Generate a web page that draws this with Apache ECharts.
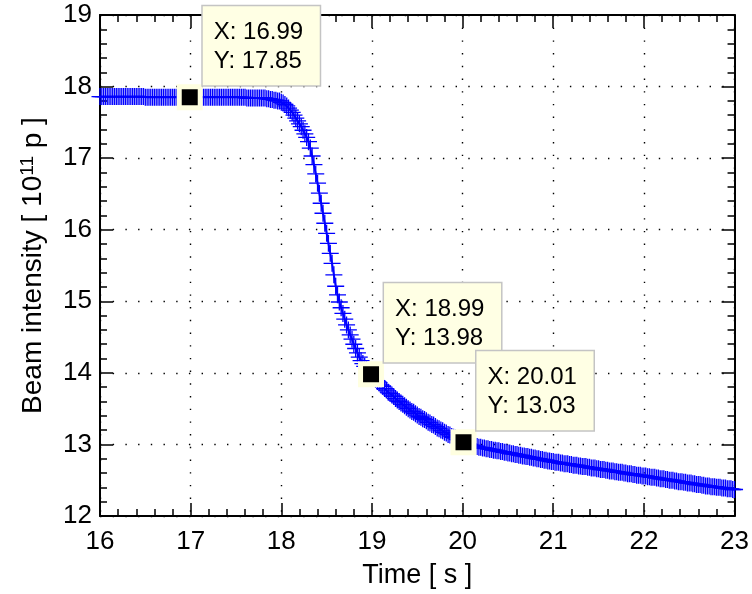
<!DOCTYPE html>
<html>
<head>
<meta charset="utf-8">
<script src="https://cdn.jsdelivr.net/npm/echarts@6/dist/echarts.min.js"></script>
<style>
  html, body { margin: 0; padding: 0; background: #fff; }
  #chart { width: 752px; height: 594px; }
</style>
</head>
<body>
<div id="chart"></div>
<script>
// sample times [s], one sample every 0.02 s
const times = [
  16.00, 16.02, 16.04, 16.06, 16.08, 16.10, 16.12, 16.14, 16.16, 16.18,
  16.20, 16.22, 16.24, 16.26, 16.28, 16.30, 16.32, 16.34, 16.36, 16.38,
  16.40, 16.42, 16.44, 16.46, 16.48, 16.50, 16.52, 16.54, 16.56, 16.58,
  16.60, 16.62, 16.64, 16.66, 16.68, 16.70, 16.72, 16.74, 16.76, 16.78,
  16.80, 16.82, 16.84, 16.86, 16.88, 16.90, 16.92, 16.94, 16.96, 16.98,
  17.00, 17.02, 17.04, 17.06, 17.08, 17.10, 17.12, 17.14, 17.16, 17.18,
  17.20, 17.22, 17.24, 17.26, 17.28, 17.30, 17.32, 17.34, 17.36, 17.38,
  17.40, 17.42, 17.44, 17.46, 17.48, 17.50, 17.52, 17.54, 17.56, 17.58,
  17.60, 17.62, 17.64, 17.66, 17.68, 17.70, 17.72, 17.74, 17.76, 17.78,
  17.80, 17.82, 17.84, 17.86, 17.88, 17.90, 17.92, 17.94, 17.96, 17.98,
  18.00, 18.02, 18.04, 18.06, 18.08, 18.10, 18.12, 18.14, 18.16, 18.18,
  18.20, 18.22, 18.24, 18.26, 18.28, 18.30, 18.32, 18.34, 18.36, 18.38,
  18.40, 18.42, 18.44, 18.46, 18.48, 18.50, 18.52, 18.54, 18.56, 18.58,
  18.60, 18.62, 18.64, 18.66, 18.68, 18.70, 18.72, 18.74, 18.76, 18.78,
  18.80, 18.82, 18.84, 18.86, 18.88, 18.90, 18.92, 18.94, 18.96, 18.98,
  19.00, 19.02, 19.04, 19.06, 19.08, 19.10, 19.12, 19.14, 19.16, 19.18,
  19.20, 19.22, 19.24, 19.26, 19.28, 19.30, 19.32, 19.34, 19.36, 19.38,
  19.40, 19.42, 19.44, 19.46, 19.48, 19.50, 19.52, 19.54, 19.56, 19.58,
  19.60, 19.62, 19.64, 19.66, 19.68, 19.70, 19.72, 19.74, 19.76, 19.78,
  19.80, 19.82, 19.84, 19.86, 19.88, 19.90, 19.92, 19.94, 19.96, 19.98,
  20.00, 20.02, 20.04, 20.06, 20.08, 20.10, 20.12, 20.14, 20.16, 20.18,
  20.20, 20.22, 20.24, 20.26, 20.28, 20.30, 20.32, 20.34, 20.36, 20.38,
  20.40, 20.42, 20.44, 20.46, 20.48, 20.50, 20.52, 20.54, 20.56, 20.58,
  20.60, 20.62, 20.64, 20.66, 20.68, 20.70, 20.72, 20.74, 20.76, 20.78,
  20.80, 20.82, 20.84, 20.86, 20.88, 20.90, 20.92, 20.94, 20.96, 20.98,
  21.00, 21.02, 21.04, 21.06, 21.08, 21.10, 21.12, 21.14, 21.16, 21.18,
  21.20, 21.22, 21.24, 21.26, 21.28, 21.30, 21.32, 21.34, 21.36, 21.38,
  21.40, 21.42, 21.44, 21.46, 21.48, 21.50, 21.52, 21.54, 21.56, 21.58,
  21.60, 21.62, 21.64, 21.66, 21.68, 21.70, 21.72, 21.74, 21.76, 21.78,
  21.80, 21.82, 21.84, 21.86, 21.88, 21.90, 21.92, 21.94, 21.96, 21.98,
  22.00, 22.02, 22.04, 22.06, 22.08, 22.10, 22.12, 22.14, 22.16, 22.18,
  22.20, 22.22, 22.24, 22.26, 22.28, 22.30, 22.32, 22.34, 22.36, 22.38,
  22.40, 22.42, 22.44, 22.46, 22.48, 22.50, 22.52, 22.54, 22.56, 22.58,
  22.60, 22.62, 22.64, 22.66, 22.68, 22.70, 22.72, 22.74, 22.76, 22.78,
  22.80, 22.82, 22.84, 22.86, 22.88, 22.90, 22.92, 22.94, 22.96, 22.98,
  23.00
]

// beam intensity [1e11 p]
const intensity = [
  17.86, 17.86, 17.86, 17.86, 17.86, 17.86, 17.86, 17.86, 17.86, 17.86,
  17.86, 17.86, 17.86, 17.86, 17.86, 17.86, 17.86, 17.86, 17.86, 17.86,
  17.86, 17.86, 17.86, 17.86, 17.86, 17.85, 17.85, 17.85, 17.85, 17.85,
  17.85, 17.85, 17.85, 17.85, 17.85, 17.85, 17.85, 17.85, 17.85, 17.85,
  17.85, 17.85, 17.85, 17.85, 17.85, 17.85, 17.85, 17.85, 17.85, 17.85,
  17.85, 17.85, 17.85, 17.85, 17.85, 17.85, 17.85, 17.85, 17.85, 17.85,
  17.85, 17.85, 17.85, 17.85, 17.85, 17.85, 17.85, 17.85, 17.85, 17.85,
  17.85, 17.85, 17.85, 17.85, 17.85, 17.85, 17.85, 17.85, 17.85, 17.85,
  17.85, 17.84, 17.84, 17.84, 17.84, 17.84, 17.84, 17.84, 17.84, 17.84,
  17.84, 17.84, 17.83, 17.83, 17.82, 17.82, 17.81, 17.81, 17.80, 17.80,
  17.78, 17.77, 17.75, 17.73, 17.70, 17.67, 17.64, 17.60, 17.56, 17.52,
  17.48, 17.44, 17.39, 17.34, 17.29, 17.23, 17.14, 17.03, 16.91, 16.78,
  16.65, 16.51, 16.37, 16.23, 16.09, 15.95, 15.81, 15.67, 15.53, 15.37,
  15.21, 15.09, 14.99, 14.91, 14.83, 14.75, 14.67, 14.60, 14.53, 14.47,
  14.40, 14.34, 14.28, 14.22, 14.17, 14.13, 14.09, 14.06, 14.03, 14.00,
  13.97, 13.94, 13.91, 13.88, 13.86, 13.83, 13.81, 13.78, 13.76, 13.73,
  13.71, 13.69, 13.67, 13.64, 13.62, 13.60, 13.58, 13.56, 13.54, 13.52,
  13.50, 13.48, 13.46, 13.45, 13.43, 13.41, 13.39, 13.38, 13.36, 13.35,
  13.33, 13.31, 13.30, 13.28, 13.27, 13.25, 13.23, 13.22, 13.20, 13.19,
  13.17, 13.16, 13.14, 13.13, 13.11, 13.10, 13.09, 13.07, 13.06, 13.05,
  13.04, 13.03, 13.02, 13.01, 13.00, 12.99, 12.98, 12.98, 12.97, 12.96,
  12.96, 12.95, 12.95, 12.94, 12.94, 12.93, 12.93, 12.92, 12.92, 12.91,
  12.91, 12.90, 12.90, 12.89, 12.89, 12.88, 12.88, 12.87, 12.87, 12.86,
  12.86, 12.85, 12.85, 12.84, 12.84, 12.83, 12.83, 12.82, 12.82, 12.81,
  12.81, 12.80, 12.80, 12.79, 12.79, 12.78, 12.78, 12.77, 12.77, 12.76,
  12.76, 12.75, 12.75, 12.75, 12.74, 12.74, 12.73, 12.73, 12.73, 12.72,
  12.72, 12.71, 12.71, 12.71, 12.70, 12.70, 12.69, 12.69, 12.69, 12.68,
  12.68, 12.67, 12.67, 12.67, 12.66, 12.66, 12.65, 12.65, 12.65, 12.64,
  12.64, 12.63, 12.63, 12.63, 12.62, 12.62, 12.61, 12.61, 12.61, 12.60,
  12.60, 12.59, 12.59, 12.59, 12.58, 12.58, 12.57, 12.57, 12.57, 12.56,
  12.56, 12.56, 12.55, 12.55, 12.54, 12.54, 12.54, 12.53, 12.53, 12.52,
  12.52, 12.52, 12.51, 12.51, 12.50, 12.50, 12.50, 12.49, 12.49, 12.48,
  12.48, 12.48, 12.47, 12.47, 12.46, 12.46, 12.46, 12.45, 12.45, 12.44,
  12.44, 12.44, 12.43, 12.43, 12.42, 12.42, 12.42, 12.41, 12.41, 12.41,
  12.40, 12.40, 12.40, 12.39, 12.39, 12.39, 12.38, 12.38, 12.38, 12.37,
  12.37
]

// data cursors
const cursorX = [16.99, 18.99, 20.01]
const cursorY = [17.85, 13.98, 13.03]

const FONT = 'Liberation Sans, Arial, Helvetica, sans-serif'
const BLUE = '#0000ff'

const chart = echarts.init(document.getElementById('chart'))

function boxAxis(pos, isX, withLabels) {
  const ax = {
    type: 'value',
    position: pos,
    min: isX ? 16 : 12,
    max: isX ? 23 : 19,
    interval: 1,
    axisLine: { show: true, onZero: false, lineStyle: { color: '#000', width: 2 } },
    axisTick: { show: true, inside: true, length: 13, lineStyle: { color: '#000', width: 1.5 } },
    minorTick: { show: true, splitNumber: 5, length: 7, lineStyle: { color: '#000', width: 1.5 } },
    axisLabel: { show: false },
    splitLine: { show: false }
  }
  if (withLabels) {
    ax.axisLabel = { show: true, fontFamily: FONT, fontSize: 26, color: '#000', margin: isX ? 13 : 8 }
    ax.splitLine = { show: true, lineStyle: { color: '#000', width: 1.4, type: [1.4, 11.3] } }
  }
  return ax
}

const xBottom = boxAxis('bottom', true, true)
xBottom.name = 'Time [ s ]'
xBottom.nameLocation = 'middle'
xBottom.nameGap = 46
xBottom.nameTextStyle = { fontFamily: FONT, fontSize: 27, color: '#000' }

const yLeft = boxAxis('left', false, true)
yLeft.name = 'Beam intensity [ 10{sup|11} p ]'
yLeft.nameLocation = 'middle'
yLeft.nameGap = 52
yLeft.nameTextStyle = {
  fontFamily: FONT, fontSize: 28, color: '#000', lineHeight: 30,
  rich: {
    sup: { fontFamily: FONT, fontSize: 19, color: '#000', verticalAlign: 'top', lineHeight: 18 }
  }
}

chart.setOption({
  animation: false,
  grid: { left: 100, right: 15, top: 15, bottom: 77, containLabel: false },
  xAxis: [xBottom, boxAxis('top', true, false)],
  yAxis: [yLeft, boxAxis('right', false, false)],
  series: [
    {
      type: 'line',
      data: times.map((t, i) => [t, intensity[i]]),
      symbol: 'path://M0,10H20M10,0V20',
      symbolSize: 17,
      showSymbol: true,
      lineStyle: { color: BLUE, width: 2 },
      itemStyle: { color: BLUE, borderColor: BLUE, borderWidth: 1.3 },
      z: 3
    },
    {
      type: 'scatter',
      data: cursorX.map((x, i) => [x, cursorY[i]]),
      symbol: 'rect',
      symbolSize: 21,
      itemStyle: { color: '#000', borderColor: '#ffffe0', borderWidth: 5, opacity: 1 },
      z: 5,
      label: {
        show: true,
        position: 'right',
        distance: 0,
        align: 'left',
        verticalAlign: 'bottom',
        offset: [0, -12],
        formatter: p => 'X: ' + p.value[0].toFixed(2) + '\nY: ' + p.value[1].toFixed(2),
        fontFamily: FONT,
        fontSize: 24,
        color: '#000',
        opacity: 1,
        lineHeight: 29,
        width: 96,
        padding: [12, 10, 9, 11],
        backgroundColor: '#ffffe4',
        borderColor: '#c4c4c4',
        borderWidth: 1.5
      }
    }
  ]
})
</script>
</body>
</html>
